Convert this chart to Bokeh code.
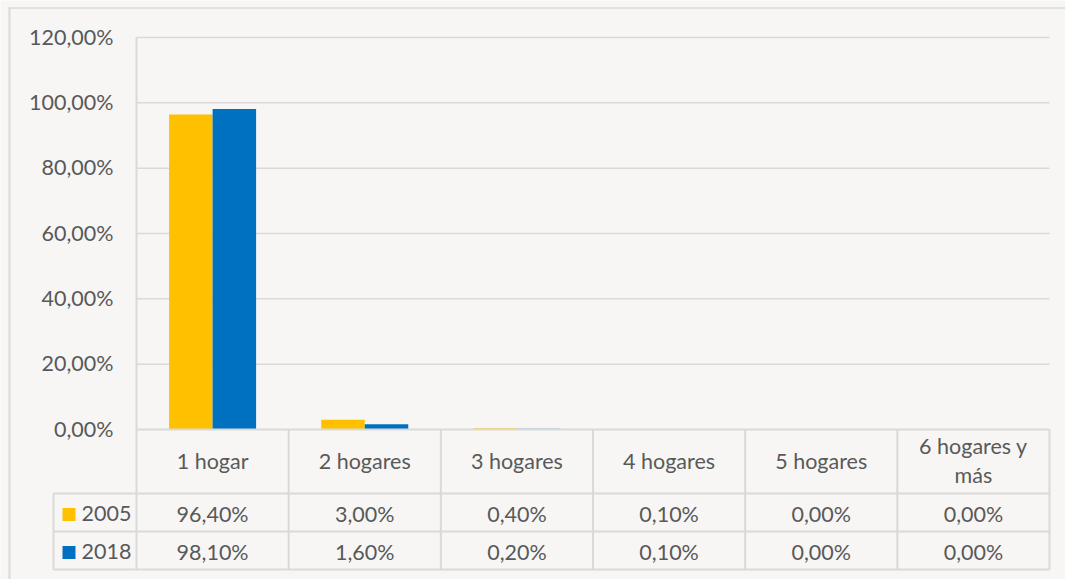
from bokeh.plotting import figure
from bokeh.models import Range1d, ColumnDataSource
from bokeh.core.properties import value
from bokeh.embed import file_html
from bokeh.resources import INLINE

# ---------------- data ----------------
CATEGORIES = ["1 hogar", "2 hogares", "3 hogares", "4 hogares", "5 hogares", "6 hogares y\nmás"]
SERIES = ["2005", "2018"]
VALUES_2005 = [96.4, 3.0, 0.4, 0.1, 0.0, 0.0]
VALUES_2018 = [98.1, 1.6, 0.2, 0.1, 0.0, 0.0]
COLORS = ["#FFC000", "#0070C0"]
Y_TICKS = [0, 20, 40, 60, 80, 100, 120]
Y_TICK_LABELS = ["0,00%", "20,00%", "40,00%", "60,00%", "80,00%", "100,00%", "120,00%"]

# ---------------- style / geometry ----------------
BG = "#f7f6f4"
LINE = "#d9d9d9"
TXT = "#595959"
FONT = "Lato"
FS = "21.5px"
W, H = 1065, 579

N = len(CATEGORIES)
X0, X1 = 136, 1049          # plot area left/right (px)
Y0, YTOP = 429, 37          # zero line / 120 line (px)
CW = (X1 - X0) / N          # px per category
PXU = (Y0 - YTOP) / 120.0   # px per percentage unit
BAR_W = 0.286               # bar width in category units


def px_x(px):   # pixel column -> category units
    return (px - X0) / CW


def px_y(py):   # pixel row -> percentage units
    return (Y0 - py) / PXU


def fmt(v):
    return f"{v:.2f}".replace(".", ",") + "%"


p = figure(width=W, height=H, output_backend="svg", toolbar_location=None,
           x_range=Range1d(px_x(0), px_x(W)), y_range=Range1d(px_y(H), px_y(0)),
           min_border=0, background_fill_color=BG, border_fill_color=BG,
           outline_line_color=None)
p.axis.visible = False
p.grid.visible = False

# outer chart border (left and top)
p.segment(x0=[px_x(9)], y0=[px_y(7.5)], x1=[px_x(9)], y1=[px_y(H + 5)], line_color=LINE, line_width=2)
p.segment(x0=[px_x(8)], y0=[px_y(7.5)], x1=[px_x(W + 5)], y1=[px_y(7.5)], line_color=LINE, line_width=1.5)

# horizontal gridlines
grid_y = Y_TICKS[1:]
p.segment(x0=[0] * len(grid_y), y0=grid_y, x1=[N] * len(grid_y), y1=grid_y,
          line_color=LINE, line_width=1.5)

# y tick labels
p.text(x=[px_x(113)] * len(Y_TICKS), y=[t + 0.3 for t in Y_TICKS], text=Y_TICK_LABELS,
       text_align="right", text_baseline="middle", text_font=value(FONT),
       text_font_size=FS, text_color=TXT)

# bars
centers = [i + 0.5 for i in range(N)]
for k, (vals, col) in enumerate(zip([VALUES_2005, VALUES_2018], COLORS)):
    off = (k - 0.5) * BAR_W
    src = ColumnDataSource(dict(x=[c + off for c in centers], top=vals))
    p.vbar(x="x", top="top", bottom=0, width=BAR_W, source=src,
           fill_color=col, line_color=None)

# ---------------- data table ----------------
y_head = px_y(493)
y_r1 = px_y(531)
y_r2 = px_y(569)
x_leg = px_x(53)

# value axis line + column separators
p.segment(x0=[0], y0=[120], x1=[0], y1=[y_r2], line_color=LINE, line_width=2)
p.segment(x0=list(range(1, N + 1)), y0=[0] * N, x1=list(range(1, N + 1)), y1=[y_r2] * N,
          line_color=LINE, line_width=2)
# horizontal lines
p.segment(x0=[0], y0=[0], x1=[N], y1=[0], line_color=LINE, line_width=2)
p.segment(x0=[x_leg] * 3, y0=[y_head, y_r1, y_r2], x1=[N] * 3, y1=[y_head, y_r1, y_r2],
          line_color=LINE, line_width=2)
p.segment(x0=[x_leg], y0=[y_head], x1=[x_leg], y1=[y_r2], line_color=LINE, line_width=2)

# header labels
p.text(x=centers, y=[px_y(460)] * N, text=CATEGORIES, text_align="center",
       text_baseline="middle", text_font=value(FONT), text_font_size=FS,
       text_color=TXT, text_line_height=1.12)

# rows
row_mid = [px_y(513), px_y(551)]
for k, (name, vals, col) in enumerate(zip(SERIES, [VALUES_2005, VALUES_2018], COLORS)):
    yc = row_mid[k]
    p.scatter(x=[px_x(68.5)], y=[yc - 0.3], marker="square", size=13,
              fill_color=col, line_color=None)
    p.text(x=[px_x(81)], y=[yc], text=[name], text_align="left",
           text_baseline="middle", text_font=value(FONT), text_font_size=FS,
           text_color=TXT)
    p.text(x=centers, y=[yc] * N, text=[fmt(v) for v in vals], text_align="center",
           text_baseline="middle", text_font=value(FONT), text_font_size=FS,
           text_color=TXT)

open("out.html", "w").write(file_html(p, INLINE))
